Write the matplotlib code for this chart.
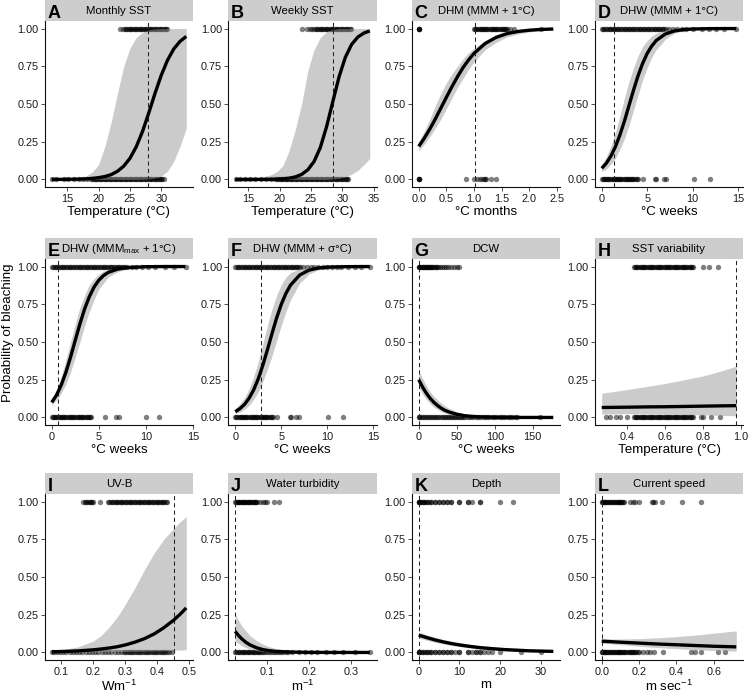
import matplotlib
matplotlib.use("Agg")
import matplotlib.pyplot as plt
import matplotlib.ticker as mticker
from matplotlib.patches import Rectangle
import numpy as np

plt.rcParams['font.family'] = ['Liberation Sans', 'DejaVu Sans']
plt.rcParams['mathtext.fontset'] = 'custom'
plt.rcParams['mathtext.rm'] = 'Liberation Sans'
plt.rcParams['mathtext.it'] = 'Liberation Sans:italic'

# ---- A: monthly SST
a_x = [12.5, 15, 17, 18, 19, 20, 21, 22, 23, 24, 25, 26, 27, 28, 29, 30, 31, 32, 33, 34]
a_fit = [0.0002, 0.0008, 0.0024, 0.004, 0.007, 0.012, 0.0195, 0.032, 0.054, 0.088, 0.14, 0.216,
         0.317, 0.44, 0.57, 0.69, 0.79, 0.865, 0.915, 0.948]
a_lo = [0, 0, 0, 0, 0, 0, 0, 0, 0, 0, 0, 0, 0.001, 0.004, 0.01, 0.022, 0.055, 0.12, 0.22, 0.34]
a_hi = [0.001, 0.004, 0.012, 0.024, 0.05, 0.1, 0.22, 0.38, 0.57, 0.75, 0.87, 0.94, 0.975, 0.992,
        0.998, 1, 1, 1, 1, 1]
a_ones = [23.4, 23.9, 24.2, 24.4, 24.6, 24.8, 25.0, 25.2, 25.4, 25.6, 25.8, 26.0, 26.2, 26.4, 26.6,
          26.8, 27.0, 27.2, 27.4, 27.6, 27.8, 28.0, 28.2, 28.4, 28.6, 28.8, 29.0, 29.2, 29.4, 29.6,
          29.8, 30.0, 30.2, 30.4, 30.6, 30.8, 31.0]
a_zeros = [12.5, 13.2, 14.4, 15.1, 16.0, 16.8, 17.5, 18.2, 18.8, 19.0, 19.2, 19.4, 19.6, 19.8, 20.0,
           20.2, 20.4, 20.6, 20.8, 21.0, 21.2, 21.4, 21.6, 21.8, 22.0, 22.2, 22.4, 22.6, 22.8, 23.0,
           23.2, 23.4, 23.6, 23.8, 24.0, 24.2, 24.4, 24.6, 24.8, 25.0, 25.2, 25.4, 25.6, 25.8, 26.0,
           26.2, 26.4, 26.6, 26.8, 27.0, 27.2, 27.4, 27.6, 27.8, 28.0, 28.2, 28.4, 28.6, 28.8, 29.0,
           29.2, 29.4, 29.6, 29.8, 30.0, 30.2, 30.4]

# ---- B: weekly SST
b_x = [12.9, 15, 17, 18.5, 19.5, 20.5, 21.5, 22.5, 23.5, 24.5, 25.5, 26.5, 27.5, 28.5, 29.5, 30.5,
       31.5, 32.5, 33.5, 34.4]
b_fit = [0.00002, 0.0001, 0.0004, 0.0011, 0.0021, 0.0043, 0.0085, 0.0168, 0.033, 0.064, 0.119, 0.212,
         0.35, 0.517, 0.681, 0.81, 0.895, 0.944, 0.971, 0.984]
b_lo = [0, 0, 0, 0, 0, 0, 0, 0, 0, 0, 0, 0, 0, 0.003, 0.008, 0.018, 0.035, 0.06, 0.1, 0.14]
b_hi = [0.001, 0.004, 0.012, 0.03, 0.05, 0.09, 0.19, 0.33, 0.5, 0.72, 0.86, 0.94, 0.98, 0.995,
        1, 1, 1, 1, 1, 1]
b_ones = [23.6, 24.3, 24.8, 25.2, 25.5, 25.8, 26.0, 26.2, 26.4, 26.6, 26.8, 27.0, 27.2, 27.4, 27.6,
          27.8, 28.0, 28.2, 28.4, 28.6, 28.8, 29.0, 29.2, 29.4, 29.6, 29.8, 30.0, 30.2, 30.4, 30.6,
          30.8, 31.0, 31.2, 31.4]
b_zeros = [13.0, 13.6, 14.5, 15.2, 16.0, 17.0, 17.8, 18.6, 19.2, 19.6, 19.8, 20.0, 20.2, 20.4, 20.6,
           20.8, 21.0, 21.2, 21.4, 21.6, 21.8, 22.0, 22.2, 22.4, 22.6, 22.8, 23.0, 23.2, 23.4, 23.6,
           23.8, 24.0, 24.2, 24.4, 24.6, 24.8, 25.0, 25.2, 25.4, 25.6, 25.8, 26.0, 26.2, 26.4, 26.6,
           26.8, 27.0, 27.2, 27.4, 27.6, 27.8, 28.0, 28.2, 28.4, 28.6, 28.8, 29.0, 29.2, 29.4, 29.6,
           29.8, 30.0, 30.2, 30.4, 30.6, 30.8, 30.9]

# ---- C: DHM
c_x = [0, 0.1, 0.2, 0.3, 0.4, 0.5, 0.6, 0.7, 0.8, 0.9, 1.0, 1.2, 1.4, 1.6, 1.8, 2.0, 2.2, 2.43]
c_fit = [0.219, 0.273, 0.334, 0.401, 0.473, 0.545, 0.615, 0.681, 0.741, 0.792, 0.836, 0.901, 0.942,
         0.967, 0.981, 0.989, 0.994, 0.997]
c_lo = [0.19, 0.235, 0.285, 0.34, 0.40, 0.47, 0.54, 0.61, 0.67, 0.73, 0.78, 0.86, 0.91, 0.945,
        0.965, 0.978, 0.986, 0.992]
c_hi = [0.25, 0.32, 0.40, 0.49, 0.57, 0.64, 0.70, 0.75, 0.80, 0.84, 0.87, 0.92, 0.955, 0.975,
        0.988, 0.994, 0.997, 0.999]
c_ones = [0.0, 0.0, 0.0, 0.0, 1.0, 1.02, 1.04, 1.06, 1.08, 1.1, 1.12, 1.14, 1.16, 1.18, 1.2, 1.22,
          1.24, 1.26, 1.28, 1.3, 1.32, 1.34, 1.36, 1.38, 1.4, 1.42, 1.44, 1.46, 1.48, 1.5, 1.52,
          1.54, 1.56, 1.58, 1.6, 1.65, 1.72, 2.2]
c_zeros = [0.0, 0.0, 0.0, 0.0, 0.85, 1.0, 1.05, 1.1, 1.15, 1.18, 1.2, 1.22, 1.31, 1.4]

# ---- dense runs shared by the three DHW panels (D, E, F)
dhw_ones_run = [0.0, 0.15, 0.3, 0.45, 0.6, 0.75, 0.9, 1.05, 1.2, 1.35, 1.5, 1.65, 1.8, 1.95, 2.1,
                2.25, 2.4, 2.55, 2.7, 2.85, 3.0, 3.15, 3.3, 3.45, 3.6, 3.75, 3.9, 4.05, 4.2, 4.35,
                4.5, 4.65, 4.8, 4.95, 5.1, 5.25, 5.4, 5.55, 5.7, 5.85, 6.0, 6.15, 6.3, 6.45, 6.6,
                6.75, 6.9]
dhw_zeros_run = [0.0, 0.12, 0.24, 0.36, 0.48, 0.6, 0.72, 0.84, 0.96, 1.08, 1.2, 1.32, 1.44, 1.56,
                 1.68, 1.8, 1.92, 2.04, 2.16, 2.28, 2.4, 2.52, 2.64, 2.76, 2.88, 3.0, 3.12, 3.24,
                 3.36, 3.48, 3.6, 3.72, 3.84, 3.96]

# ---- D: DHW (MMM + 1)
d_x = [0, 0.5, 1, 1.5, 2, 2.5, 3, 3.5, 4, 4.5, 5, 5.5, 6, 7, 8, 9, 10, 12, 14.8]
d_fit = [0.074, 0.107, 0.154, 0.216, 0.295, 0.387, 0.49, 0.592, 0.688, 0.769, 0.835, 0.884, 0.921,
         0.964, 0.984, 0.993, 0.997, 0.9994, 1.0]
d_lo = [0.05, 0.07, 0.10, 0.14, 0.20, 0.27, 0.36, 0.46, 0.56, 0.66, 0.74, 0.81, 0.86, 0.93, 0.97,
        0.985, 0.993, 0.998, 1.0]
d_hi = [0.10, 0.15, 0.22, 0.31, 0.42, 0.54, 0.65, 0.74, 0.82, 0.88, 0.92, 0.95, 0.97, 0.99, 0.996,
        0.999, 1, 1, 1]
d_ones = dhw_ones_run + [7.05, 7.4, 7.8, 8.3, 8.8, 9.3, 10.0, 11.0, 11.8, 12.6, 13.5, 14.8]
d_zeros = dhw_zeros_run + [4.5, 5.9, 6.0, 6.8, 7.1, 10.1, 11.9]

# ---- E: DHW (MMMmax + 1)
e_x = [0, 0.5, 1, 1.5, 2, 2.5, 3, 3.5, 4, 4.5, 5, 5.5, 6, 7, 8, 10, 12, 14.2]
e_fit = [0.100, 0.147, 0.213, 0.298, 0.40, 0.511, 0.621, 0.72, 0.801, 0.864, 0.909, 0.94, 0.961,
         0.983, 0.993, 0.999, 1.0, 1.0]
e_lo = [0.08, 0.115, 0.16, 0.22, 0.30, 0.40, 0.50, 0.61, 0.70, 0.78, 0.85, 0.89, 0.93, 0.965,
        0.985, 0.997, 0.999, 1]
e_hi = [0.12, 0.18, 0.27, 0.38, 0.50, 0.62, 0.73, 0.81, 0.88, 0.92, 0.95, 0.97, 0.98, 0.993, 0.998,
        1, 1, 1]
e_ones = dhw_ones_run + [7.05, 7.2, 7.35, 7.5, 7.65, 7.8, 7.95, 8.5, 9.0, 9.6, 10.2, 11.0, 12.0,
                         13.0, 14.3]
e_zeros = dhw_zeros_run + [4.08, 4.2, 5.7, 6.8, 7.1, 10.0, 11.4]

# ---- F: DHW (MMM + sigma)
f_x = [0, 0.5, 1, 1.5, 2, 2.5, 3, 3.5, 4, 4.5, 5, 5.5, 6, 7, 8, 9, 10, 12, 14.6]
f_fit = [0.038, 0.058, 0.086, 0.127, 0.183, 0.256, 0.347, 0.45, 0.558, 0.661, 0.75, 0.822, 0.877,
         0.944, 0.976, 0.99, 0.996, 0.9992, 1.0]
f_lo = [0.025, 0.035, 0.055, 0.08, 0.12, 0.17, 0.24, 0.32, 0.41, 0.51, 0.61, 0.70, 0.78, 0.89,
        0.95, 0.978, 0.99, 0.998, 1]
f_hi = [0.06, 0.09, 0.13, 0.19, 0.27, 0.37, 0.49, 0.61, 0.72, 0.81, 0.88, 0.93, 0.96, 0.985, 0.995,
        0.998, 1, 1, 1]
f_ones = dhw_ones_run + [7.0, 7.4, 7.8, 8.2, 8.6, 9.0, 9.5, 10.0, 10.5, 11.0, 11.5, 12.2, 13.0,
                         13.6, 14.6]
f_zeros = dhw_zeros_run + [4.08, 4.5, 5.9, 6.0, 6.6, 6.9, 10.1, 11.7]

# ---- G: DCW
g_x = [0, 5, 10, 15, 20, 25, 30, 35, 40, 50, 60, 70, 80, 100, 120, 140, 160, 177]
g_fit = [0.25, 0.202, 0.161, 0.127, 0.10, 0.078, 0.060, 0.046, 0.036, 0.021, 0.012, 0.007, 0.004,
         0.0012, 0.0004, 0.0001, 0, 0]
g_lo = [0.2, 0.155, 0.12, 0.09, 0.068, 0.051, 0.038, 0.028, 0.02, 0.011, 0.006, 0.003, 0.0016,
        0.0004, 0.0001, 0, 0, 0]
g_hi = [0.31, 0.26, 0.21, 0.17, 0.14, 0.115, 0.093, 0.075, 0.06, 0.038, 0.024, 0.015, 0.01, 0.004,
        0.0015, 0.0006, 0.0002, 0.0001]
g_ones = [0, 0, 1, 2, 3, 4, 5, 6, 7, 8, 9, 10, 11, 12, 13, 14, 15, 16, 17, 18, 19.5, 21, 22.5,
          24, 26, 28, 30, 33, 36, 39, 42, 46, 50, 53]
g_zeros = [0, 0, 2, 4, 6, 8, 10, 12, 14, 16, 18, 20, 22, 24, 26, 28, 30, 32, 34, 36, 38, 40, 42,
           44, 46, 48, 50, 52, 54, 56, 58, 60, 63, 66, 69, 72, 75, 78, 81, 84, 87, 90, 93, 96, 99,
           102, 105, 108, 111, 114, 117, 120, 123, 126, 129, 160]

# ---- H: SST variability
h_x = [0.265, 0.4, 0.5, 0.6, 0.7, 0.8, 0.9, 0.975]
h_fit = [0.066, 0.068, 0.07, 0.071, 0.073, 0.075, 0.077, 0.078]
h_lo = [0.022, 0.025, 0.024, 0.022, 0.02, 0.017, 0.013, 0.011]
h_hi = [0.16, 0.185, 0.205, 0.225, 0.25, 0.275, 0.31, 0.34]
h_core = [0.435, 0.441, 0.447, 0.453, 0.459, 0.465, 0.471, 0.477, 0.483, 0.489, 0.495, 0.501,
          0.507, 0.513, 0.519, 0.525, 0.531, 0.537, 0.543, 0.549, 0.555, 0.561, 0.567, 0.573,
          0.579, 0.585, 0.591, 0.597, 0.603, 0.609, 0.615, 0.621, 0.627, 0.633, 0.639, 0.645,
          0.651, 0.657, 0.663, 0.669, 0.675, 0.681, 0.687, 0.693, 0.699, 0.705, 0.711, 0.717,
          0.723, 0.729, 0.735, 0.741, 0.747]
h_ones = h_core + [0.8, 0.83, 0.88]
h_zeros = [0.29, 0.31, 0.34, 0.36, 0.40] + h_core + [0.79, 0.80, 0.84, 0.89]

# ---- I: UV-B
i_x = [0.07, 0.1, 0.15, 0.2, 0.225, 0.25, 0.275, 0.3, 0.33, 0.36, 0.39, 0.42, 0.45, 0.47, 0.49]
i_fit = [0.0043, 0.006, 0.010, 0.0175, 0.023, 0.0296, 0.038, 0.05, 0.0685, 0.092, 0.123, 0.164,
         0.213, 0.252, 0.295]
i_lo = [0.0005, 0.001, 0.002, 0.003, 0.004, 0.005, 0.006, 0.007, 0.008, 0.009, 0.011, 0.012, 0.015,
        0.016, 0.018]
i_hi = [0.012, 0.018, 0.036, 0.076, 0.114, 0.17, 0.237, 0.32, 0.43, 0.55, 0.66, 0.75, 0.82, 0.865,
        0.9]
i_ones = [0.169, 0.173, 0.177, 0.181, 0.185, 0.189, 0.193, 0.197, 0.2, 0.22, 0.246, 0.25, 0.254,
          0.258, 0.262, 0.266, 0.27, 0.274, 0.278, 0.282, 0.286, 0.29, 0.294, 0.298, 0.302, 0.306,
          0.31, 0.314, 0.318, 0.322, 0.326, 0.33, 0.334, 0.338, 0.342, 0.346, 0.35, 0.354, 0.358,
          0.362, 0.366, 0.37, 0.374, 0.378, 0.382, 0.386, 0.39, 0.394, 0.398, 0.402, 0.406, 0.41,
          0.414, 0.418, 0.422, 0.426, 0.43]
i_zeros = [0.07, 0.076, 0.086, 0.096, 0.106, 0.116, 0.126, 0.136, 0.146, 0.156, 0.166, 0.176,
           0.186, 0.196, 0.206, 0.216, 0.226, 0.236, 0.246, 0.256, 0.266, 0.276, 0.286, 0.296,
           0.3, 0.305, 0.31, 0.315, 0.32, 0.325, 0.33, 0.335, 0.34, 0.345, 0.35, 0.355, 0.36,
           0.365, 0.37, 0.375, 0.38, 0.385, 0.39, 0.395, 0.4, 0.405, 0.41, 0.415, 0.42, 0.425,
           0.43, 0.435, 0.446]

# ---- J: water turbidity
j_x = [0.024, 0.03, 0.04, 0.05, 0.06, 0.075, 0.09, 0.1, 0.12, 0.15, 0.2, 0.25, 0.3, 0.345]
j_fit = [0.14, 0.118, 0.089, 0.066, 0.049, 0.031, 0.019, 0.014, 0.007, 0.003, 0.0005, 0.0001, 0, 0]
j_lo = [0.075, 0.062, 0.045, 0.031, 0.021, 0.012, 0.0065, 0.0045, 0.002, 0.0006, 0.0001, 0, 0, 0]
j_hi = [0.26, 0.22, 0.175, 0.14, 0.11, 0.078, 0.055, 0.043, 0.027, 0.013, 0.004, 0.0012, 0.0004,
        0.0001]
j_ones = [0.024, 0.026, 0.028, 0.03, 0.032, 0.034, 0.036, 0.038, 0.04, 0.042, 0.044, 0.046, 0.048,
          0.05, 0.052, 0.054, 0.056, 0.058, 0.06, 0.062, 0.064, 0.066, 0.068, 0.07, 0.072, 0.074,
          0.076, 0.084, 0.09, 0.096, 0.1, 0.116, 0.128]
j_zeros = [0.024, 0.027, 0.03, 0.033, 0.036, 0.039, 0.042, 0.045, 0.048, 0.051, 0.054, 0.057,
           0.06, 0.063, 0.066, 0.069, 0.072, 0.075, 0.078, 0.081, 0.084, 0.087, 0.09, 0.094,
           0.099, 0.104, 0.109, 0.114, 0.119, 0.124, 0.129, 0.134, 0.139, 0.144, 0.15, 0.16,
           0.175, 0.19, 0.205, 0.22, 0.24, 0.26, 0.28, 0.31, 0.345]

# ---- K: depth
k_x = [0, 2, 4, 6, 8, 10, 12, 15, 18, 21, 24, 27, 30, 33]
k_fit = [0.115, 0.098, 0.083, 0.07, 0.059, 0.05, 0.042, 0.032, 0.025, 0.019, 0.015, 0.011, 0.009,
         0.007]
k_lo = [0.095, 0.08, 0.067, 0.056, 0.046, 0.038, 0.031, 0.022, 0.015, 0.011, 0.008, 0.005, 0.0035,
        0.0025]
k_hi = [0.135, 0.118, 0.10, 0.087, 0.075, 0.064, 0.056, 0.046, 0.038, 0.032, 0.027, 0.023, 0.02,
        0.017]
k_ones = [0, 0, 0, 0, 0.3, 0.6, 1, 1, 1.3, 1.6, 2, 2, 2.5, 3, 3, 4, 4, 5, 5, 6, 6, 7, 7, 8, 8, 10,
          10, 12, 12, 13, 15, 15, 20, 23]
k_zeros = [0, 0, 0, 0, 0.5, 1, 1, 1.5, 2, 2, 2.5, 3, 3, 4, 4, 5, 5, 6, 6, 7, 7, 8, 8, 9, 10, 10,
           12, 12, 13, 14, 14, 15, 15, 16, 17, 18, 20, 25, 30]

# ---- L: current speed
l_x = [0, 0.1, 0.2, 0.3, 0.4, 0.5, 0.6, 0.72]
l_fit = [0.075, 0.068, 0.062, 0.056, 0.051, 0.046, 0.041, 0.037]
l_lo = [0.061, 0.052, 0.041, 0.032, 0.025, 0.018, 0.013, 0.009]
l_hi = [0.09, 0.089, 0.092, 0.097, 0.105, 0.115, 0.128, 0.143]
l_ones = [0.0, 0.0, 0.005, 0.01, 0.015, 0.02, 0.025, 0.03, 0.035, 0.04, 0.045, 0.05, 0.055, 0.06,
          0.065, 0.07, 0.075, 0.08, 0.085, 0.09, 0.095, 0.1, 0.105, 0.11, 0.115, 0.12, 0.15,
          0.165, 0.18, 0.2, 0.27, 0.275, 0.285, 0.32, 0.43, 0.53]
l_zeros = [0.0, 0.0, 0.005, 0.01, 0.015, 0.02, 0.025, 0.03, 0.035, 0.04, 0.045, 0.05, 0.055, 0.06,
           0.065, 0.07, 0.075, 0.08, 0.085, 0.09, 0.095, 0.1, 0.105, 0.11, 0.115, 0.12, 0.126,
           0.132, 0.138, 0.144, 0.15, 0.156, 0.162, 0.168, 0.174, 0.18, 0.186, 0.192, 0.2, 0.22,
           0.24, 0.26, 0.28, 0.33, 0.48, 0.5, 0.53, 0.62, 0.66]

letters = list("ABCDEFGHIJKL")
titles = ['Monthly SST', 'Weekly SST', 'DHM (MMM + 1°C)', 'DHW (MMM + 1°C)',
          r'DHW (MMM$_{\mathregular{max}}$ + 1°C)', 'DHW (MMM + σ°C)', 'DCW', 'SST variability',
          'UV-B', 'Water turbidity', 'Depth', 'Current speed']
xlabels = ['Temperature (°C)', 'Temperature (°C)', '°C months', '°C weeks',
           '°C weeks', '°C weeks', '°C weeks', 'Temperature (°C)',
           r'Wm$^{\mathregular{-1}}$', r'm$^{\mathregular{-1}}$', 'm', r'm sec$^{\mathregular{-1}}$']
thresholds = [27.95, 28.5, 1.02, 1.32, 0.63, 2.83, 0.0, 0.976, 0.453, 0.024, 0.0, 0.0]
xticks = [[15, 20, 25, 30], [15, 20, 25, 30, 35], [0, 0.5, 1, 1.5, 2, 2.5], [0, 5, 10, 15],
          [0, 5, 10, 15], [0, 5, 10, 15], [0, 50, 100, 150], [0.4, 0.6, 0.8, 1.0],
          [0.1, 0.2, 0.3, 0.4, 0.5], [0.1, 0.2, 0.3], [0, 10, 20, 30], [0, 0.2, 0.4, 0.6]]
xfmts = ['%d', '%d', '%.1f', '%d', '%d', '%d', '%d', '%.1f', '%.1f', '%.1f', '%d', '%.1f']

curves = [(a_x, a_fit, a_lo, a_hi, a_ones, a_zeros), (b_x, b_fit, b_lo, b_hi, b_ones, b_zeros),
          (c_x, c_fit, c_lo, c_hi, c_ones, c_zeros), (d_x, d_fit, d_lo, d_hi, d_ones, d_zeros),
          (e_x, e_fit, e_lo, e_hi, e_ones, e_zeros), (f_x, f_fit, f_lo, f_hi, f_ones, f_zeros),
          (g_x, g_fit, g_lo, g_hi, g_ones, g_zeros), (h_x, h_fit, h_lo, h_hi, h_ones, h_zeros),
          (i_x, i_fit, i_lo, i_hi, i_ones, i_zeros), (j_x, j_fit, j_lo, j_hi, j_ones, j_zeros),
          (k_x, k_fit, k_lo, k_hi, k_ones, k_zeros), (l_x, l_fit, l_lo, l_hi, l_ones, l_zeros)]

W, H = 750, 694
fig = plt.figure(figsize=(W / 100, H / 100), dpi=100)

col_left = [45, 228.5, 412, 595]
panel_w = 148
row_top = [21, 259, 494]
panel_h = 166
strip_h = 21

for n, (x, fit, lo, hi, ones, zeros) in enumerate(curves):
    r, c = divmod(n, 4)
    ax = fig.add_axes([col_left[c] / W, 1 - (row_top[r] + panel_h) / H, panel_w / W, panel_h / H])

    ax.scatter(ones, np.ones(len(ones)), s=15, color='black', alpha=0.5, lw=0, zorder=2)
    ax.scatter(zeros, np.zeros(len(zeros)), s=15, color='black', alpha=0.5, lw=0, zorder=2)
    ax.fill_between(x, lo, hi, color='#999999', alpha=0.5, lw=0, zorder=3)
    ax.axvline(thresholds[n], color='#222222', lw=0.75, ls=(0, (4, 3)), zorder=4)
    ax.plot(x, fit, color='black', lw=2.4, zorder=5, solid_capstyle='butt',
            solid_joinstyle='round')

    allx = list(x) + list(ones) + list(zeros)
    xmin, xmax = min(allx), max(allx)
    pad = 0.05 * (xmax - xmin)
    ax.set_xlim(xmin - pad, xmax + pad)
    ax.set_ylim(-0.05, 1.05)

    ax.set_xticks(xticks[n])
    ax.xaxis.set_major_formatter(mticker.FormatStrFormatter(xfmts[n]))
    ax.set_yticks([0, 0.25, 0.5, 0.75, 1.0])
    ax.yaxis.set_major_formatter(mticker.FormatStrFormatter('%.2f'))

    for side in ['top', 'right']:
        ax.spines[side].set_visible(False)
    for side in ['left', 'bottom']:
        ax.spines[side].set_linewidth(0.8)
        ax.spines[side].set_color('#111111')
    ax.tick_params(length=2.8, width=0.6, pad=2, labelsize=7.8, color='#333333',
                   labelcolor='#1a1a1a')
    ax.set_xlabel(xlabels[n], fontsize=9.6, labelpad=1.5)

    # strip
    sh = strip_h / panel_h
    ax.add_patch(Rectangle((0, 1), 1, sh, transform=ax.transAxes, clip_on=False,
                           facecolor='#CDCDCD', edgecolor='none'))
    ax.text(0.5, 1 + sh / 2, titles[n], transform=ax.transAxes, ha='center', va='center',
            fontsize=8.2)
    ax.text(2.5 / panel_w, 1 + 3 / panel_h, letters[n], transform=ax.transAxes, ha='left',
            va='baseline', fontsize=13, fontweight='bold')

fig.text(0.011, 0.52, 'Probability of bleaching', rotation=90, ha='center', va='center',
         fontsize=9.6)

fig.savefig('out.png', dpi=100)
